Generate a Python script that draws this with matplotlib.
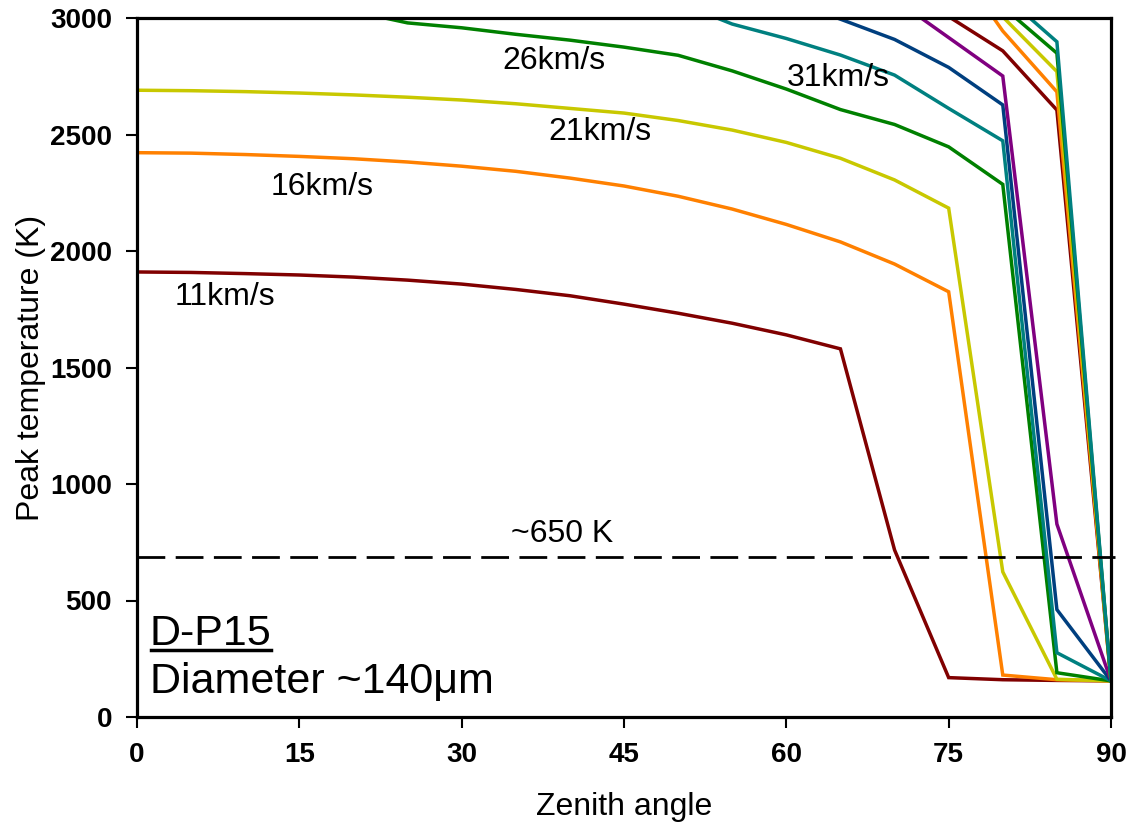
import numpy as np
import matplotlib
matplotlib.use("Agg")
import matplotlib.pyplot as plt
from matplotlib.lines import Line2D
from matplotlib.transforms import IdentityTransform

plt.rcParams['font.family'] = ['Liberation Sans', 'DejaVu Sans']
plt.rcParams['lines.scale_dashes'] = False

nan = np.nan
angles = [0, 5, 10, 15, 20, 25, 30, 35, 40, 45, 50, 55, 60, 65, 70, 75, 80, 85, 90]

v11 = [1910, 1908, 1903, 1897, 1888, 1875, 1858, 1835, 1808, 1772, 1733, 1690, 1640, 1580, 717, 169, 160, 157, 155]
v16 = [2422, 2420, 2414, 2406, 2396, 2382, 2364, 2342, 2313, 2279, 2235, 2180, 2114, 2039, 1944, 1825, 180, 160, 155]
v21 = [2690, 2688, 2684, 2678, 2670, 2660, 2648, 2632, 2612, 2592, 2560, 2519, 2466, 2398, 2305, 2184, 623, 162, 155]
v26 = [nan, nan, nan, nan, 3029, 2979, 2958, 2930, 2905, 2875, 2840, 2773, 2695, 2607, 2543, 2447, 2286, 190, 155]
v31 = [nan, nan, nan, nan, nan, nan, nan, nan, nan, nan, 3067, 2974, 2912, 2841, 2755, 2612, 2473, 276, 155]
v36 = [nan, nan, nan, nan, nan, nan, nan, nan, nan, nan, nan, nan, 3078, 2995, 2908, 2788, 2627, 461, 155]
v41 = [nan, nan, nan, nan, nan, nan, nan, nan, nan, nan, nan, nan, nan, nan, 3081, 2916, 2751, 828, 155]
v46 = [nan, nan, nan, nan, nan, nan, nan, nan, nan, nan, nan, nan, nan, nan, nan, 3006, 2859, 2605, 155]
v51 = [nan, nan, nan, nan, nan, nan, nan, nan, nan, nan, nan, nan, nan, nan, nan, 3275, 2944, 2683, 155]
v56 = [nan, nan, nan, nan, nan, nan, nan, nan, nan, nan, nan, nan, nan, nan, nan, nan, 3005, 2770, 155]
v61 = [nan, nan, nan, nan, nan, nan, nan, nan, nan, nan, nan, nan, nan, nan, nan, nan, 3048, 2849, 155]
v66 = [nan, nan, nan, nan, nan, nan, nan, nan, nan, nan, nan, nan, nan, nan, nan, nan, 3102, 2898, 155]

series = [v11, v16, v21, v26, v31, v36, v41, v46, v51, v56, v61, v66]
colors = ['#800000', '#FF8000', '#C8C800', '#008000', '#008080', '#003F7F', '#800080',
          '#800000', '#FF8000', '#C8C800', '#008000', '#008080']

threshold = 685
threshold_label = '~650 K'

curve_labels = ['26km/s', '31km/s', '21km/s', '16km/s', '11km/s']
label_x = [38.5, 64.8, 42.8, 17.1, 8.1]
label_y = [2815, 2742, 2511, 2275, 1803]

xticks = [0, 15, 30, 45, 60, 75, 90]
yticks = [0, 500, 1000, 1500, 2000, 2500, 3000]

fig = plt.figure(figsize=(11.35, 8.31), dpi=100)
ax = fig.add_axes([137 / 1135, 1 - 717 / 831, 974 / 1135, 699 / 831])

for vals, c in zip(series, colors):
    ax.plot(angles, vals, color=c, lw=2.5, solid_joinstyle='miter')

ax.plot([0, 90.4], [threshold, threshold], color='black', lw=2.0,
        linestyle=(0, (20, 7.5)), clip_on=False)
ax.text(39.3, 785, threshold_label, fontsize=23, ha='center', va='center')

for t, x, y in zip(curve_labels, label_x, label_y):
    ax.text(x, y, t, fontsize=23, ha='center', va='center')

t1 = ax.text(1.2, 309, 'D-P15', fontsize=31, ha='left', va='baseline')
ax.text(1.2, 103, 'Diameter ~140\u03bcm', fontsize=31, ha='left', va='baseline')

ax.set_xlim(0, 90)
ax.set_ylim(0, 3000)
ax.set_xticks(xticks)
ax.set_yticks(yticks)
ax.set_xticklabels([str(v) for v in xticks], fontweight='bold', fontsize=20)
ax.set_yticklabels([str(v) for v in yticks], fontweight='bold', fontsize=20)
ax.tick_params(direction='out', length=8, width=1.5, pad=10)
for s in ax.spines.values():
    s.set_linewidth(2.3)
ax.set_xlabel('Zenith angle', fontsize=23, labelpad=17)
ax.set_ylabel('Peak temperature (K)', fontsize=23, labelpad=3)

fig.canvas.draw()
r = fig.canvas.get_renderer()
bb = t1.get_window_extent(r)
base = ax.transData.transform((1.2, 309))[1]
fig.add_artist(Line2D([bb.x0 + 1, bb.x1 - 1], [base - 5, base - 5], color='black',
                      lw=2.5, transform=IdentityTransform()))

fig.savefig('out.png', dpi=100)
